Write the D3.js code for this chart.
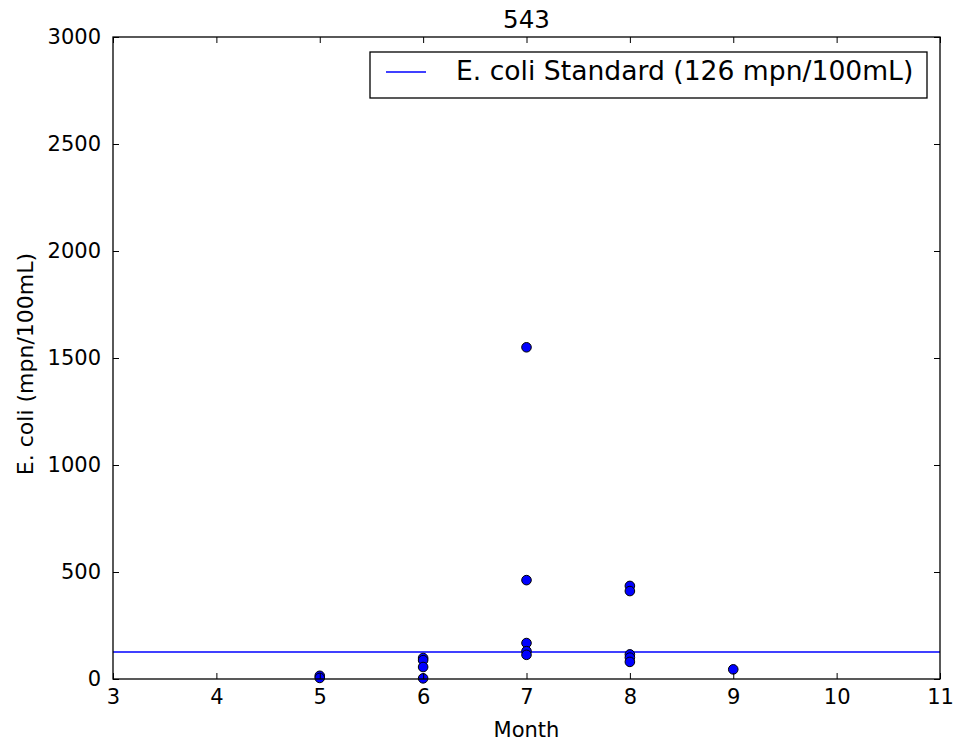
<!DOCTYPE html>
<html>
<head>
<meta charset="utf-8">
<script src="https://cdn.jsdelivr.net/npm/d3@7"></script>
<style>
body { margin: 0; background: #fff; }
p { margin: 0; }
text { font-family: "DejaVu Sans", sans-serif; fill: #000; }
</style>
</head>
<body>
<p></p>
<script>
var w = 953;
var h = 744;

// sample data: month and E. coli count
var months = [5, 5, 6, 6, 6, 6, 7, 7, 7, 7, 7, 8, 8, 8, 8, 8, 9];
var ecoli = [15, 5, 98, 88, 56, 3, 1550, 462, 168, 130, 113, 435, 411, 115, 100, 80, 45];
var standard = 126;
var xTicks = [3, 4, 5, 6, 7, 8, 9, 10, 11];
var yTicks = [0, 500, 1000, 1500, 2000, 2500, 3000];

var padL = 113, padR = 940, padT = 37, padB = 679;

var svg = d3.select("p")
    .append("svg")
    .attr("width", w)
    .attr("height", h);

var xScale = d3.scaleLinear().domain([3, 11]).range([padL, padR]);
var yScale = d3.scaleLinear().domain([0, 3000]).range([padB, padT]);

// standard line
svg.append("line")
    .attr("x1", padL).attr("x2", padR)
    .attr("y1", yScale(standard)).attr("y2", yScale(standard))
    .attr("stroke", "#0000ff")
    .attr("stroke-width", 1.4);

// points
svg.selectAll("circle")
    .data(months.map(function(m, i) { return {m: m, v: ecoli[i]}; }))
    .enter()
    .append("circle")
    .attr("cx", function(d) { return xScale(d.m); })
    .attr("cy", function(d) { return yScale(d.v); })
    .attr("r", 4.8)
    .attr("fill", "#0000ff")
    .attr("stroke", "#000")
    .attr("stroke-width", 1);

// axes with inward ticks
var xAxis = d3.axisBottom(xScale).tickValues(xTicks).tickFormat(d3.format("d"))
    .tickSizeInner(-6).tickSizeOuter(0).tickPadding(10);
var yAxis = d3.axisLeft(yScale).tickValues(yTicks).tickFormat(d3.format("d"))
    .tickSizeInner(-6).tickSizeOuter(0).tickPadding(12);
var xTop = d3.axisTop(xScale).tickValues(xTicks).tickSizeInner(-6).tickSizeOuter(0).tickFormat("");
var yRight = d3.axisRight(yScale).tickValues(yTicks).tickSizeInner(-6).tickSizeOuter(0).tickFormat("");

svg.append("g").attr("transform", "translate(0," + padB + ")").call(xAxis);
svg.append("g").attr("transform", "translate(" + padL + ",0)").call(yAxis);
svg.append("g").attr("transform", "translate(0," + padT + ")").call(xTop);
svg.append("g").attr("transform", "translate(" + padR + ",0)").call(yRight);

svg.selectAll(".domain").remove();
svg.selectAll(".tick line").attr("stroke", "#000");
svg.selectAll(".tick text")
    .style("font-size", "21px")
    .style("font-family", "DejaVu Sans");
svg.selectAll("g").attr("font-size", null).attr("font-family", null);

// frame
svg.append("rect")
    .attr("x", padL).attr("y", padT)
    .attr("width", padR - padL).attr("height", padB - padT)
    .attr("fill", "none")
    .attr("stroke", "#000")
    .attr("stroke-width", 1.3);

// title and labels
svg.append("text")
    .attr("x", (padL + padR) / 2).attr("y", 28)
    .attr("text-anchor", "middle")
    .style("font-size", "24.5px")
    .text("543");

svg.append("text")
    .attr("x", (padL + padR) / 2).attr("y", 737)
    .attr("text-anchor", "middle")
    .style("font-size", "21px")
    .text("Month");

svg.append("text")
    .attr("transform", "translate(33," + ((padT + padB) / 2 + 6) + ") rotate(-90)")
    .attr("text-anchor", "middle")
    .style("font-size", "22px")
    .text("E. coli (mpn/100mL)");

// legend
var lg = svg.append("g");
lg.append("rect")
    .attr("x", 370).attr("y", 52)
    .attr("width", 557).attr("height", 46)
    .attr("fill", "#fff")
    .attr("stroke", "#000")
    .attr("stroke-width", 1.3);
lg.append("line")
    .attr("x1", 386).attr("x2", 426)
    .attr("y1", 72).attr("y2", 72)
    .attr("stroke", "#0000ff")
    .attr("stroke-width", 1.4);
lg.append("text")
    .attr("x", 456).attr("y", 80)
    .style("font-size", "26.6px")
    .text("E. coli Standard (" + standard + " mpn/100mL)");
</script>
</body>
</html>
